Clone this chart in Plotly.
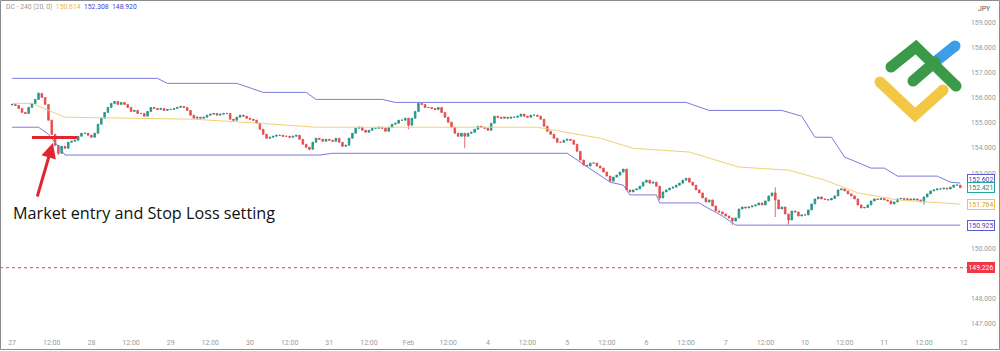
import pandas as pd
import plotly.graph_objects as go

# ---------------- data ----------------
trading_days = ["2025-01-27", "2025-01-28", "2025-01-29", "2025-01-30", "2025-01-31",
                "2025-02-03", "2025-02-04", "2025-02-05", "2025-02-06", "2025-02-07",
                "2025-02-10", "2025-02-11"]
tick_days = trading_days + ["2025-02-12"]
day_labels = ["27", "28", "29", "30", "31", "Feb", "4", "5", "6", "7", "10", "11", "12"]

# hourly closes (USD/JPY), one list per trading day
close_jan27 = [155.74, 155.70, 155.58, 155.42, 155.38, 155.62, 155.78, 155.94, 156.18, 156.02, 155.74, 155.11,
               154.55, 154.11, 153.79, 154.07, 153.99, 154.23, 154.27, 154.31, 154.47, 154.59, 154.59, 154.51]
close_jan28 = [154.43, 154.59, 154.95, 155.19, 155.42, 155.62, 155.78, 155.86, 155.74, 155.82, 155.74, 155.62,
               155.46, 155.50, 155.38, 155.38, 155.27, 155.46, 155.62, 155.58, 155.54, 155.58, 155.50, 155.54]
close_jan29 = [155.54, 155.58, 155.62, 155.66, 155.62, 155.50, 155.31, 155.19, 155.23, 155.19, 155.23, 155.31,
               155.35, 155.38, 155.31, 155.35, 155.38, 155.38, 155.15, 155.11, 155.23, 155.31, 155.27, 155.19]
close_jan30 = [155.15, 155.11, 154.99, 154.75, 154.55, 154.39, 154.43, 154.47, 154.51, 154.51, 154.47, 154.47,
               154.43, 154.47, 154.51, 154.35, 154.15, 154.03, 153.95, 154.23, 154.39, 154.35, 154.27, 154.35]
close_jan31 = [154.31, 154.27, 154.39, 154.23, 154.07, 154.11, 154.39, 154.59, 154.79, 154.83, 154.71, 154.63,
               154.71, 154.79, 154.79, 154.83, 154.79, 154.67, 154.83, 154.95, 154.99, 155.11, 155.11, 155.19]
close_feb03 = [154.91, 155.19, 155.46, 155.78, 155.74, 155.62, 155.62, 155.58, 155.54, 155.62, 155.42, 155.23,
               155.03, 154.83, 154.59, 154.47, 154.59, 154.47, 154.59, 154.63, 154.75, 154.87, 154.83, 154.79]
close_feb04 = [154.71, 154.99, 155.27, 155.23, 155.19, 155.23, 155.19, 155.23, 155.23, 155.27, 155.35, 155.27,
               155.23, 155.31, 155.31, 155.27, 155.15, 154.87, 154.67, 154.55, 154.39, 154.23, 154.23, 154.31]
close_feb05 = [154.35, 154.31, 154.15, 153.87, 153.52, 153.32, 153.28, 153.40, 153.40, 153.28, 153.20, 153.04,
               152.88, 152.68, 152.84, 152.92, 153.04, 153.16, 152.33, 152.25, 152.33, 152.37, 152.48, 152.64]
close_feb06 = [152.72, 152.60, 152.64, 152.48, 152.01, 152.25, 152.33, 152.40, 152.44, 152.52, 152.60, 152.72,
               152.80, 152.64, 152.52, 152.33, 152.21, 152.01, 151.85, 151.93, 151.69, 151.49, 151.45, 151.37]
close_feb07 = [151.29, 151.21, 151.09, 151.21, 151.57, 151.65, 151.61, 151.65, 151.69, 151.73, 151.81, 151.73,
               151.89, 152.09, 152.21, 151.93, 151.57, 151.65, 151.37, 151.13, 151.49, 151.45, 151.29, 151.33]
close_feb10 = [151.33, 151.53, 151.77, 151.97, 152.05, 151.97, 151.95, 151.93, 151.99, 152.09, 152.33, 152.37,
               152.29, 152.17, 152.09, 151.97, 151.73, 151.61, 151.63, 151.73, 151.89, 151.97, 151.95, 151.99]
close_feb11 = [151.93, 151.89, 151.77, 151.85, 151.97, 151.99, 151.95, 151.97, 151.93, 151.97, 151.93, 151.85,
               152.05, 152.17, 152.29, 152.33, 152.37, 152.37, 152.40, 152.37, 152.44, 152.52, 152.52, 152.421]
first_open = 155.72

# notable wicks: bar index -> price
wick_high = {8: 156.22, 123: 155.84, 231: 152.44}
wick_low = {14: 153.72, 90: 153.91, 120: 154.75, 137: 153.99, 196: 151.93,
            218: 150.93, 231: 151.25, 235: 150.95, 276: 151.73}

# Donchian channel (20 x 4H) breakpoints: bar index / price
upper_idx = [0, 44, 47, 68, 76, 89, 92, 112, 116, 204, 211, 233, 239, 243, 248, 252, 260, 264, 268, 280, 284, 287]
upper_val = [156.78, 156.78, 156.58, 156.58, 156.22, 156.22, 155.94, 155.94, 155.82, 155.82, 155.50, 155.50,
             155.27, 154.43, 154.43, 153.64, 153.20, 153.20, 152.88, 152.88, 152.64, 152.602]
lower_idx = [0, 8, 11, 16, 93, 97, 168, 181, 185, 187, 195, 196, 208, 210, 215, 219, 287]
lower_val = [154.83, 154.83, 154.55, 153.72, 153.72, 153.79, 153.79, 152.64, 152.52, 152.13, 152.13, 151.81,
             151.81, 151.65, 151.29, 150.925, 150.925]
middle_idx = [0, 6, 16, 55, 75, 92, 159, 178, 188, 205, 220, 235, 246, 256, 268, 287]
middle_val = [155.78, 155.78, 155.23, 155.15, 154.99, 154.83, 154.83, 154.39, 153.99, 153.84, 153.24, 153.12,
              152.72, 152.21, 151.93, 151.764]

legend_values = ["150.614", "152.308", "148.920"]
last_price = 152.421
alert_level = 149.226
entry_price = 154.42
entry_start = "2025-01-27 06:00"
entry_end = "2025-01-27 19:40"
arrow_time = "2025-01-27 12:20"
arrow_price = 154.20
# price-scale ticks left visible (149, 151 and 152 sit under the price boxes)
y_ticks = [147, 148, 150, 153, 154, 155, 156, 157, 158, 159]

# ---------------- build series ----------------
closes = (close_jan27 + close_jan28 + close_jan29 + close_jan30 + close_jan31 + close_feb03 +
          close_feb04 + close_feb05 + close_feb06 + close_feb07 + close_feb10 + close_feb11)
times = [pd.Timestamp(d) + pd.Timedelta(hours=h) for d in trading_days for h in range(24)]
opens = [first_open] + closes[:-1]
highs, lows = [], []
for i, (o, c) in enumerate(zip(opens, closes)):
    highs.append(max(o, c, wick_high.get(i, 0)))
    lows.append(min(o, c, wick_low.get(i, 1e9)))

tickvals, ticktext = [], []
for d, lab in zip(tick_days, day_labels):
    tickvals.append(pd.Timestamp(d))
    ticktext.append(lab)
    if d != tick_days[-1]:
        tickvals.append(pd.Timestamp(d) + pd.Timedelta(hours=12))
        ticktext.append("12:00")

BLUE = "#7b7bdc"
YEL = "#f3cf78"
FONT = "Roboto"

fig = go.Figure()
fig.add_trace(go.Scatter(x=[times[i] for i in upper_idx], y=upper_val, mode="lines",
                         line=dict(color=BLUE, width=1), hoverinfo="skip"))
fig.add_trace(go.Scatter(x=[times[i] for i in lower_idx], y=lower_val, mode="lines",
                         line=dict(color=BLUE, width=1), hoverinfo="skip"))
fig.add_trace(go.Scatter(x=[times[i] for i in middle_idx], y=middle_val, mode="lines",
                         line=dict(color=YEL, width=1), hoverinfo="skip"))
fig.add_trace(go.Candlestick(x=times, open=opens, high=highs, low=lows, close=closes,
                             increasing=dict(line=dict(color="#1f8f80", width=0.8), fillcolor="#26a69a"),
                             decreasing=dict(line=dict(color="#e04848", width=0.8), fillcolor="#ef5350"),
                             whiskerwidth=0))

W, H = 1000, 351
ML, MR, MT, MB = 0, 32, 0, 22
PW, PH = W - ML - MR, H - MT - MB


def px(x, y):
    return x / PW, 1 - y / PH


shapes = []
# alert line
shapes.append(dict(type="line", xref="paper", x0=0, x1=1, yref="y", y0=alert_level, y1=alert_level,
                   line=dict(color="#f23645", width=1, dash="dot")))
# entry line
shapes.append(dict(type="line", xref="x", x0=entry_start, x1=entry_end, yref="y",
                   y0=entry_price, y1=entry_price, line=dict(color="#e3262e", width=3)))


def stroke(points, color, width=11):
    path = ""
    for k, (x, y) in enumerate(points):
        a, b = px(x, y)
        path += ("M" if k == 0 else "L") + f"{a:.5f},{b:.5f} "
    shapes.append(dict(type="path", xref="paper", yref="paper", path=path,
                       line=dict(color=color, width=width)))
    r = width / 2
    for (x, y) in (points[0], points[-1]):
        a0, b0 = px(x - r, y + r)
        a1, b1 = px(x + r, y - r)
        shapes.append(dict(type="circle", xref="paper", yref="paper", x0=a0, x1=a1, y0=b0, y1=b1,
                           fillcolor=color, line=dict(width=0)))


# logo
stroke([(880, 82), (915, 115), (943, 90)], "#f2c744")
stroke([(935, 62), (955, 46)], "#3d9de6")
stroke([(913, 81), (935, 62)], "#3a9a4a")
stroke([(891, 67), (916, 47), (956, 86)], "#3a9a4a")

# frame
shapes.append(dict(type="rect", xref="paper", yref="paper",
                   x0=0.5 / PW, x1=(W - 0.5) / PW, y0=1 - (H - 1.5) / PH, y1=1 - 0.5 / PH,
                   line=dict(color="#8c8c8c", width=1)))

annotations = []
annotations.append(dict(xref="paper", yref="paper", x=4 / PW, y=1 - 7 / PH, xanchor="left", yanchor="middle",
                        showarrow=False, font=dict(family=FONT, size=6.8, color="#9a9a9a"),
                        text=("DC - 240 (20, 0)  "
                              f"<span style='color:#e9b83c'>{legend_values[0]}</span>  "
                              f"<span style='color:#4646c4'>{legend_values[1]}</span>  "
                              f"<span style='color:#4646c4'>{legend_values[2]}</span>")))
annotations.append(dict(xref="paper", yref="paper", x=(985 - ML) / PW, y=1 - 9 / PH, xanchor="center",
                        yanchor="middle", showarrow=False, text="JPY",
                        font=dict(family=FONT, size=6.8, color="#555555")))
annotations.append(dict(xref="paper", yref="paper", x=11 / PW, y=1 - 213 / PH, xanchor="left", yanchor="middle",
                        showarrow=False, text="Market entry and Stop Loss setting",
                        font=dict(family="Open Sans", size=16.2, color="#111111")))
annotations.append(dict(x=arrow_time, y=arrow_price, xref="x", yref="y", showarrow=True, text="",
                        ax=-16, ay=55, arrowhead=2, arrowsize=1, arrowwidth=3, arrowcolor="#e3262e"))


def price_box(val, txt, border, fg, bg="white", shift=0):
    annotations.append(dict(xref="paper", yref="y", x=1, y=val, xanchor="left", yanchor="middle",
                            xshift=-1, yshift=shift, showarrow=False, text=txt,
                            font=dict(family=FONT, size=6.8, color=fg), bgcolor=bg,
                            bordercolor=border, borderwidth=1, borderpad=0.5))


price_box(upper_val[-1], f"{upper_val[-1]:.3f}", "#5b5bd0", "#4040b8", shift=4)
price_box(last_price, f"{last_price:.3f}", "#26a69a", "#1f7f76")
price_box(middle_val[-1], f"{middle_val[-1]:.3f}", "#f0c448", "#d4a21c")
price_box(lower_val[-1], f"{lower_val[-1]:.3f}", "#5b5bd0", "#4040b8")
price_box(alert_level, f"{alert_level:.3f}", "#f23645", "white", bg="#f23645")

fig.update_layout(
    width=W, height=H, margin=dict(l=ML, r=MR, t=MT, b=MB),
    paper_bgcolor="white", plot_bgcolor="white", showlegend=False,
    shapes=shapes, annotations=annotations,
    xaxis=dict(range=["2025-01-24 20:20", "2025-02-12 01:20"], rangeslider=dict(visible=False),
               rangebreaks=[dict(bounds=["sat", "mon"])], showgrid=False, zeroline=False,
               tickvals=tickvals, ticktext=ticktext, ticks="", tickangle=0, ticklabelstandoff=8,
               tickfont=dict(family=FONT, size=7, color="#9a9a9a")),
    yaxis=dict(side="right", range=[146.782, 159.905], showgrid=False, zeroline=False,
               tickvals=y_ticks, tickformat=".3f", ticks="", ticklabelstandoff=2,
               tickfont=dict(family=FONT, size=6.8, color="#9a9a9a")),
)

fig.write_html("out.html")
